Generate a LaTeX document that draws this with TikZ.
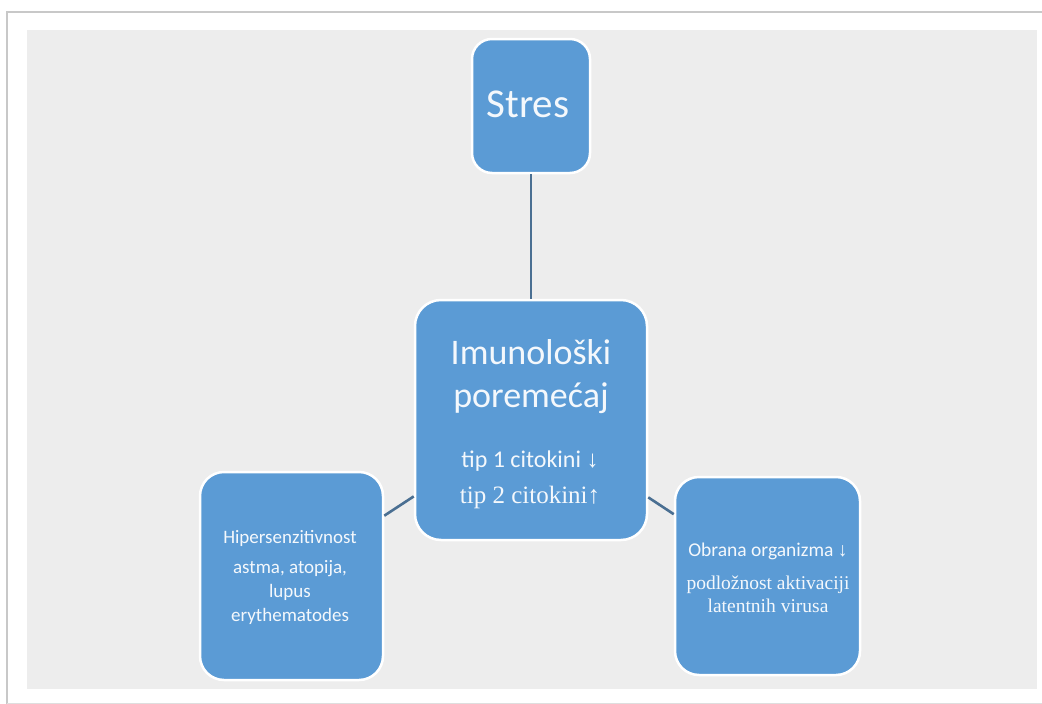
\documentclass[tikz,border=0pt]{standalone}
\usepackage{fontspec}
\setmainfont{Carlito}
\newfontfamily\tnr{Liberation Serif}
\newfontfamily\arr{Liberation Sans}
\definecolor{boxblue}{HTML}{5B9BD5}
\definecolor{linkblue}{HTML}{4A6F92}
\definecolor{panel}{HTML}{EDEDED}
\definecolor{txt}{HTML}{F4F8FC}
\definecolor{shadowgray}{HTML}{C8C8C8}
\begin{document}
\begin{tikzpicture}[x=1pt,y=-1pt,
  box/.style={draw=white, line width=2.5pt, fill=boxblue, rounded corners=20pt, inner sep=0pt},
  lbl/.style={text=txt, anchor=base, inner sep=0pt},
  link/.style={draw=linkblue, line width=2.6pt}]
\useasboundingbox (0,0) rectangle (1042,704);
\fill[white] (0,0) rectangle (1042,704);
\draw[shadowgray, line width=2pt] (7,704) -- (7,12) -- (1042,12);
\draw[shadowgray!60, line width=1pt] (7,703) -- (1042,703);
\fill[panel] (27,30) rectangle (1037,689);
% boxes
\node[box, minimum width=118pt, minimum height=134pt] (stres) at (531,106) {};
\node[box, minimum width=232pt, minimum height=240pt, rounded corners=26pt] (imm) at (531,420) {};
\node[box, minimum width=183pt, minimum height=208pt, rounded corners=24pt] (hyp) at (291.5,576) {};
\node[box, minimum width=185pt, minimum height=198pt, rounded corners=24pt] (obr) at (767.5,576) {};
% connectors
\draw[link] (stres) -- (imm);
\draw[link] (imm) -- (hyp);
\draw[link] (imm) -- (obr);
% texts
\node[lbl, font=\fontsize{41}{48}\selectfont] (t1) at (528,117) {Stres};
\node[lbl, font=\fontsize{36}{42}\selectfont] (t2) at (531,364) {Imunološki};
\node[lbl, font=\fontsize{36}{42}\selectfont] (t3) at (531,407) {poremećaj};
\node[lbl, font=\fontsize{24}{28}\selectfont] (t4) at (530,467) {tip 1 citokini {\arr↓}};
\node[lbl, font=\tnr\fontsize{25}{29}\selectfont] (t5) at (530,503) {tip 2 citokini↑};
\node[lbl, font=\fontsize{19}{23}\selectfont] (t6) at (290,543) {Hipersenzitivnost};
\node[lbl, font=\fontsize{19}{23}\selectfont] (t7) at (290,573) {astma, atopija,};
\node[lbl, font=\fontsize{19}{23}\selectfont] (t8) at (290,597) {lupus};
\node[lbl, font=\fontsize{19}{23}\selectfont] (t9) at (290,621) {erythematodes};
\node[lbl, font=\fontsize{19.5}{23}\selectfont] (t10) at (768,556) {Obrana organizma {\arr↓}};
\node[lbl, font=\tnr\fontsize{19.5}{23}\selectfont] (t11) at (768,589) {podložnost aktivaciji};
\node[lbl, font=\tnr\fontsize{19.5}{23}\selectfont] (t12) at (768,612) {latentnih virusa};
\end{tikzpicture}
\end{document}
